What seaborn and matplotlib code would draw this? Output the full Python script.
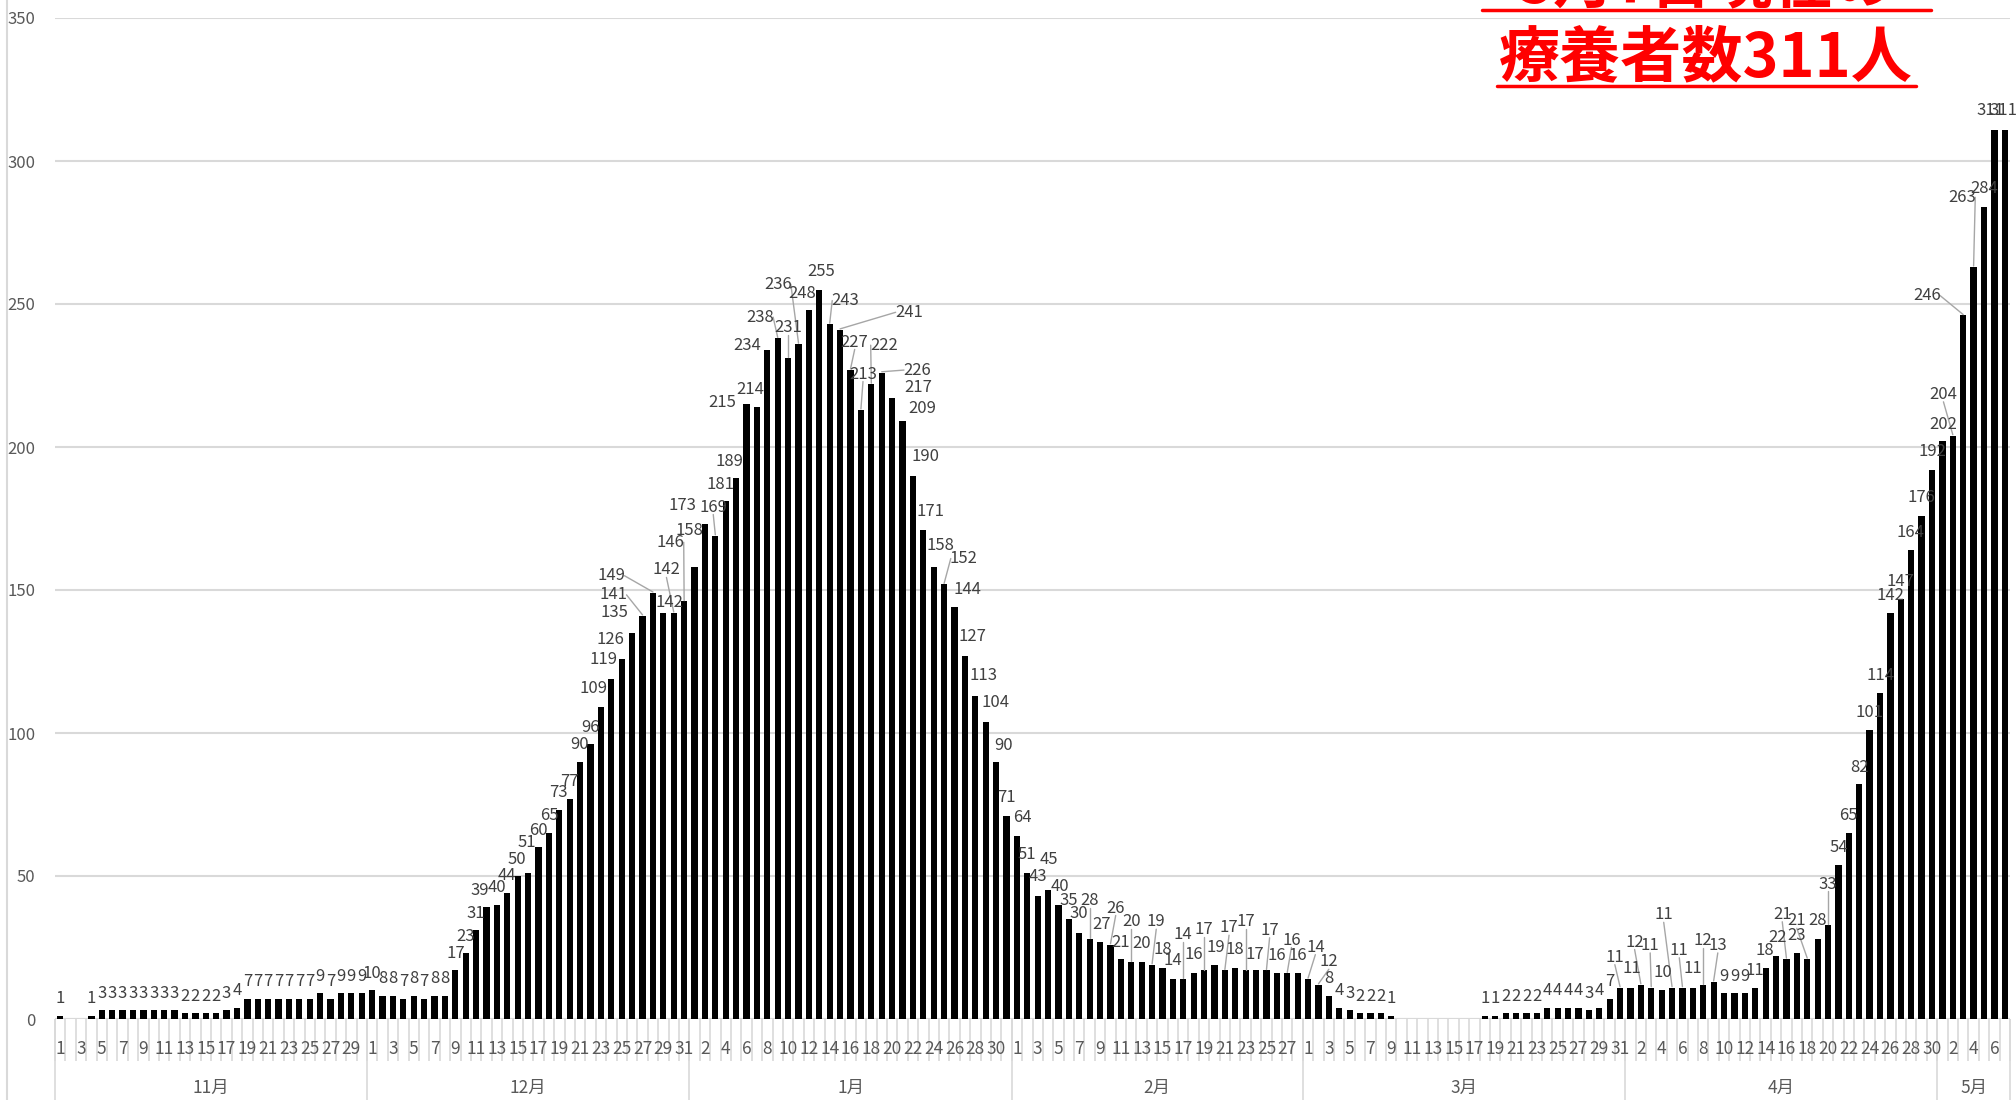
import matplotlib
matplotlib.use("Agg")
import matplotlib.pyplot as plt
import numpy as np
import pandas as pd
import seaborn as sns
from matplotlib.lines import Line2D

sns.set_theme(style="white")
plt.rcParams["font.family"] = ["Liberation Sans Narrow", "Noto Sans CJK JP", "DejaVu Sans"]

# daily number of people under treatment, Nov 1 .. May 7
month_names = ["11月", "12月", "1月", "2月", "3月", "4月", "5月"]
month_nums = [11, 12, 1, 2, 3, 4, 5]
nov = [1, 0, 0, 1, 3, 3, 3, 3, 3, 3, 3, 3, 2, 2, 2, 2, 3, 4, 7, 7,
       7, 7, 7, 7, 7, 9, 7, 9, 9, 9]
dec = [10, 8, 8, 7, 8, 7, 8, 8, 17, 23, 31, 39, 40, 44, 50, 51, 60, 65, 73, 77,
       90, 96, 109, 119, 126, 135, 141, 149, 142, 142, 146]
jan = [158, 173, 169, 181, 189, 215, 214, 234, 238, 231, 236, 248, 255, 243, 241, 227,
       213, 222, 226, 217, 209, 190, 171, 158, 152, 144, 127, 113, 104, 90, 71]
feb = [64, 51, 43, 45, 40, 35, 30, 28, 27, 26, 21, 20, 20, 19, 18, 14, 14, 16, 17, 19,
       17, 18, 17, 17, 17, 16, 16, 16]
mar = [14, 12, 8, 4, 3, 2, 2, 2, 1, 0, 0, 0, 0, 0, 0, 0, 0, 1, 1, 2,
       2, 2, 2, 4, 4, 4, 4, 3, 4, 7, 11]
apr = [11, 12, 11, 10, 11, 11, 11, 12, 13, 9, 9, 9, 11, 18, 22, 21, 23, 21, 28, 33,
       54, 65, 82, 101, 114, 142, 147, 164, 176, 192]
may = [202, 204, 246, 263, 284, 311, 311]

title_line1 = "5月7日現在の"
title_line2 = "療養者数311人"

series = [nov, dec, jan, feb, mar, apr, may]
rows = []
for m, mn, vals in zip(month_names, month_nums, series):
    for d, v in enumerate(vals, start=1):
        rows.append({"month": m, "key": f"{mn}/{d}", "day": d, "value": v})
df = pd.DataFrame(rows)
df["idx"] = np.arange(len(df))
n = len(df)
key_to_idx = dict(zip(df["key"], df["idx"]))

# hand-moved data labels (label centre in bar-slot / value units, leader line?)
moved_labels = {
    "12/12": (40.3, 45.1, False), "12/13": (42.0, 46.0, False),
    "12/15": (43.9, 55.8, False), "12/16": (44.9, 61.7, False),
    "12/19": (47.9, 79.3, False), "12/21": (49.9, 96.1, False),
    "12/23": (51.3, 115.5, False), "12/24": (52.2, 125.7, False),
    "12/25": (52.9, 132.7, False), "12/26": (53.3, 142.1, False),
    "12/27": (53.2, 148.3, True), "12/28": (53.0, 155.0, True),
    "12/29": (58.6, 145.6, False), "12/30": (58.3, 157.0, True),
    "12/31": (58.7, 166.7, True),
    "1/1": (60.5, 170.9, False), "1/2": (59.8, 179.6, False),
    "1/3": (62.8, 179.0, True), "1/4": (63.5, 187.0, False),
    "1/5": (64.4, 195.0, False), "1/6": (63.7, 215.4, False),
    "1/7": (66.4, 220.0, False), "1/8": (66.1, 235.6, False),
    "1/9": (67.3, 245.4, True), "1/10": (70.0, 241.9, True),
    "1/11": (69.0, 256.9, True), "1/12": (71.4, 253.5, False),
    "1/13": (73.2, 261.3, False), "1/14": (75.5, 251.2, True),
    "1/15": (81.6, 247.1, True), "1/16": (76.4, 236.7, True),
    "1/17": (77.2, 225.5, True), "1/18": (79.2, 235.6, True),
    "1/19": (82.4, 226.9, True), "1/20": (82.5, 220.8, False),
    "1/21": (82.9, 213.3, False), "1/22": (83.2, 196.7, False),
    "1/23": (83.7, 177.6, False), "1/24": (84.6, 165.4, False),
    "1/25": (86.9, 161.0, True), "1/26": (87.2, 150.0, False),
    "1/27": (87.7, 133.8, False), "1/28": (88.8, 120.0, False),
    "1/29": (89.9, 110.6, False), "1/30": (90.7, 95.6, False),
    "1/31": (91.0, 77.5, False),
    "2/1": (92.5, 70.6, False), "2/2": (93.0, 57.5, False),
    "2/3": (94.0, 49.8, False), "2/4": (95.1, 55.6, False),
    "2/5": (96.1, 46.3, False), "2/6": (97.0, 41.3, False),
    "2/7": (98.0, 36.9, False), "2/8": (99.0, 41.3, True),
    "2/9": (100.1, 33.1, False), "2/10": (101.5, 38.8, True),
    "2/11": (102.0, 26.9, False), "2/12": (103.0, 34.0, True),
    "2/13": (104.0, 26.5, False), "2/14": (105.4, 34.0, True),
    "2/15": (106.0, 24.4, False), "2/16": (107.0, 20.3, False),
    "2/17": (108.0, 29.4, True), "2/18": (109.0, 22.5, False),
    "2/19": (110.0, 31.3, True), "2/20": (111.1, 25.0, False),
    "2/21": (112.4, 31.9, True), "2/22": (113.0, 24.4, False),
    "2/23": (114.0, 34.0, True), "2/24": (114.9, 22.5, False),
    "2/25": (116.3, 31.0, True), "2/26": (117.0, 22.3, False),
    "2/27": (118.4, 27.6, True), "2/28": (119.0, 22.3, False),
    "3/1": (120.7, 25.1, True), "3/2": (122.0, 20.0, True),
    "3/31": (149.5, 21.6, True), "4/1": (151.1, 17.6, False),
    "4/2": (151.4, 26.9, True), "4/3": (152.9, 25.7, True),
    "4/4": (154.1, 16.4, False), "4/5": (154.2, 36.4, True),
    "4/6": (155.7, 24.0, True), "4/7": (157.0, 17.6, False),
    "4/8": (158.0, 27.3, True), "4/9": (159.4, 25.7, True),
    "4/14": (163.9, 24.0, False), "4/15": (165.1, 28.5, False),
    "4/16": (165.6, 36.6, True), "4/17": (167.0, 29.2, False),
    "4/18": (167.0, 34.3, True), "4/19": (169.0, 34.3, False),
    "4/20": (170.0, 47.2, True),
    "4/28": (177.9, 170.0, False), "4/29": (179.0, 182.3, False),
    "4/30": (180.0, 198.6, False), "5/1": (181.1, 208.0, False),
    "5/2": (181.1, 218.4, True), "5/3": (179.5, 253.0, True),
    "5/4": (182.9, 287.3, True), "5/5": (185.0, 290.4, False),
    "5/6": (185.6, 317.6, False), "5/7": (186.9, 317.6, False),
}

W, H = 2016, 1100
fig = plt.figure(figsize=(W / 100, H / 100), dpi=100)
ax = fig.add_axes([55 / W, (H - 1019) / H, (2010 - 55) / W, 1001 / H])

sns.barplot(data=df, x="idx", y="value", color="black", width=0.6,
            errorbar=None, ax=ax, saturation=1)
for p in ax.patches:
    p.set_edgecolor("none")

ax.set_xlim(-0.5, n - 0.5)
ax.set_ylim(0, 350)
ax.set_yticks(np.arange(0, 351, 50))
ax.yaxis.grid(True, color="#D9D9D9", lw=1.5)
ax.set_axisbelow(True)
for s in ax.spines.values():
    s.set_visible(False)
ax.tick_params(axis="y", length=0, pad=14, labelsize=12, labelcolor="#595959")
ax.set_xticks([])
ax.set_xlabel("")
ax.set_ylabel("")
ax.axhline(0, color="#D9D9D9", lw=1.5, zorder=0)

# data labels
lab_style = dict(fontsize=12, color="#404040", ha="center", va="center", zorder=5)
moved_idx = {key_to_idx[k]: v for k, v in moved_labels.items()}
for i, v in zip(df["idx"], df["value"]):
    if v <= 0:
        continue
    if i in moved_idx:
        lx, ly, leader = moved_idx[i]
    else:
        lx, ly, leader = i, v + 6, False
    ax.text(lx, ly, str(v), **lab_style)
    if leader:
        dx = i - lx
        hw = len(str(v)) * 0.37
        if abs(dx) > 1.0:
            sx, sy = lx + np.sign(dx) * (hw + 0.15), ly
        else:
            sx, sy = lx, ly - 2.6
        ax.plot([sx, i], [sy, v + 0.3], color="#A6A6A6", lw=1, zorder=4)

# two-level category axis
trans = ax.get_xaxis_transform()
ax.vlines(np.arange(-0.5, n), -0.042, 0, transform=trans, clip_on=False,
          colors="#D9D9D9", lw=1.2)
bounds = np.concatenate([[0], np.cumsum([len(s) for s in series])]) - 0.5
ax.vlines(bounds, -0.09, 0, transform=trans, clip_on=False,
          colors="#D9D9D9", lw=1.2)
for i, d in zip(df["idx"], df["day"]):
    if i % 2 == 0:
        ax.text(i, -0.03, str(d), transform=trans, ha="center", va="center",
                fontsize=12.5, color="#595959")
for k, m in enumerate(month_names):
    ax.text((bounds[k] + bounds[k + 1]) / 2, -0.069, m, transform=trans,
            ha="center", va="center", fontsize=12.5, color="#595959")

# chart frame line on the left
fig.add_artist(Line2D([7 / W, 7 / W], [0, 1], color="#D9D9D9", lw=1.5))

# red title (top right, partly cut off)
fig.text(1706 / W, 1 - 3 / H, title_line1, ha="center", va="baseline",
         fontsize=44, color="red", fontweight="bold", family="Noto Sans CJK JP")
fig.text(1706 / W, 1 - 76 / H, title_line2, ha="center", va="baseline",
         fontsize=44, color="red", fontweight="bold", family="Noto Sans CJK JP")
fig.add_artist(Line2D([1482 / W, 1931 / W], [1 - 10 / H] * 2, color="red", lw=2.5))
fig.add_artist(Line2D([1497 / W, 1916 / W], [1 - 86 / H] * 2, color="red", lw=2.5))

fig.savefig("out.png", dpi=100, facecolor="white")
